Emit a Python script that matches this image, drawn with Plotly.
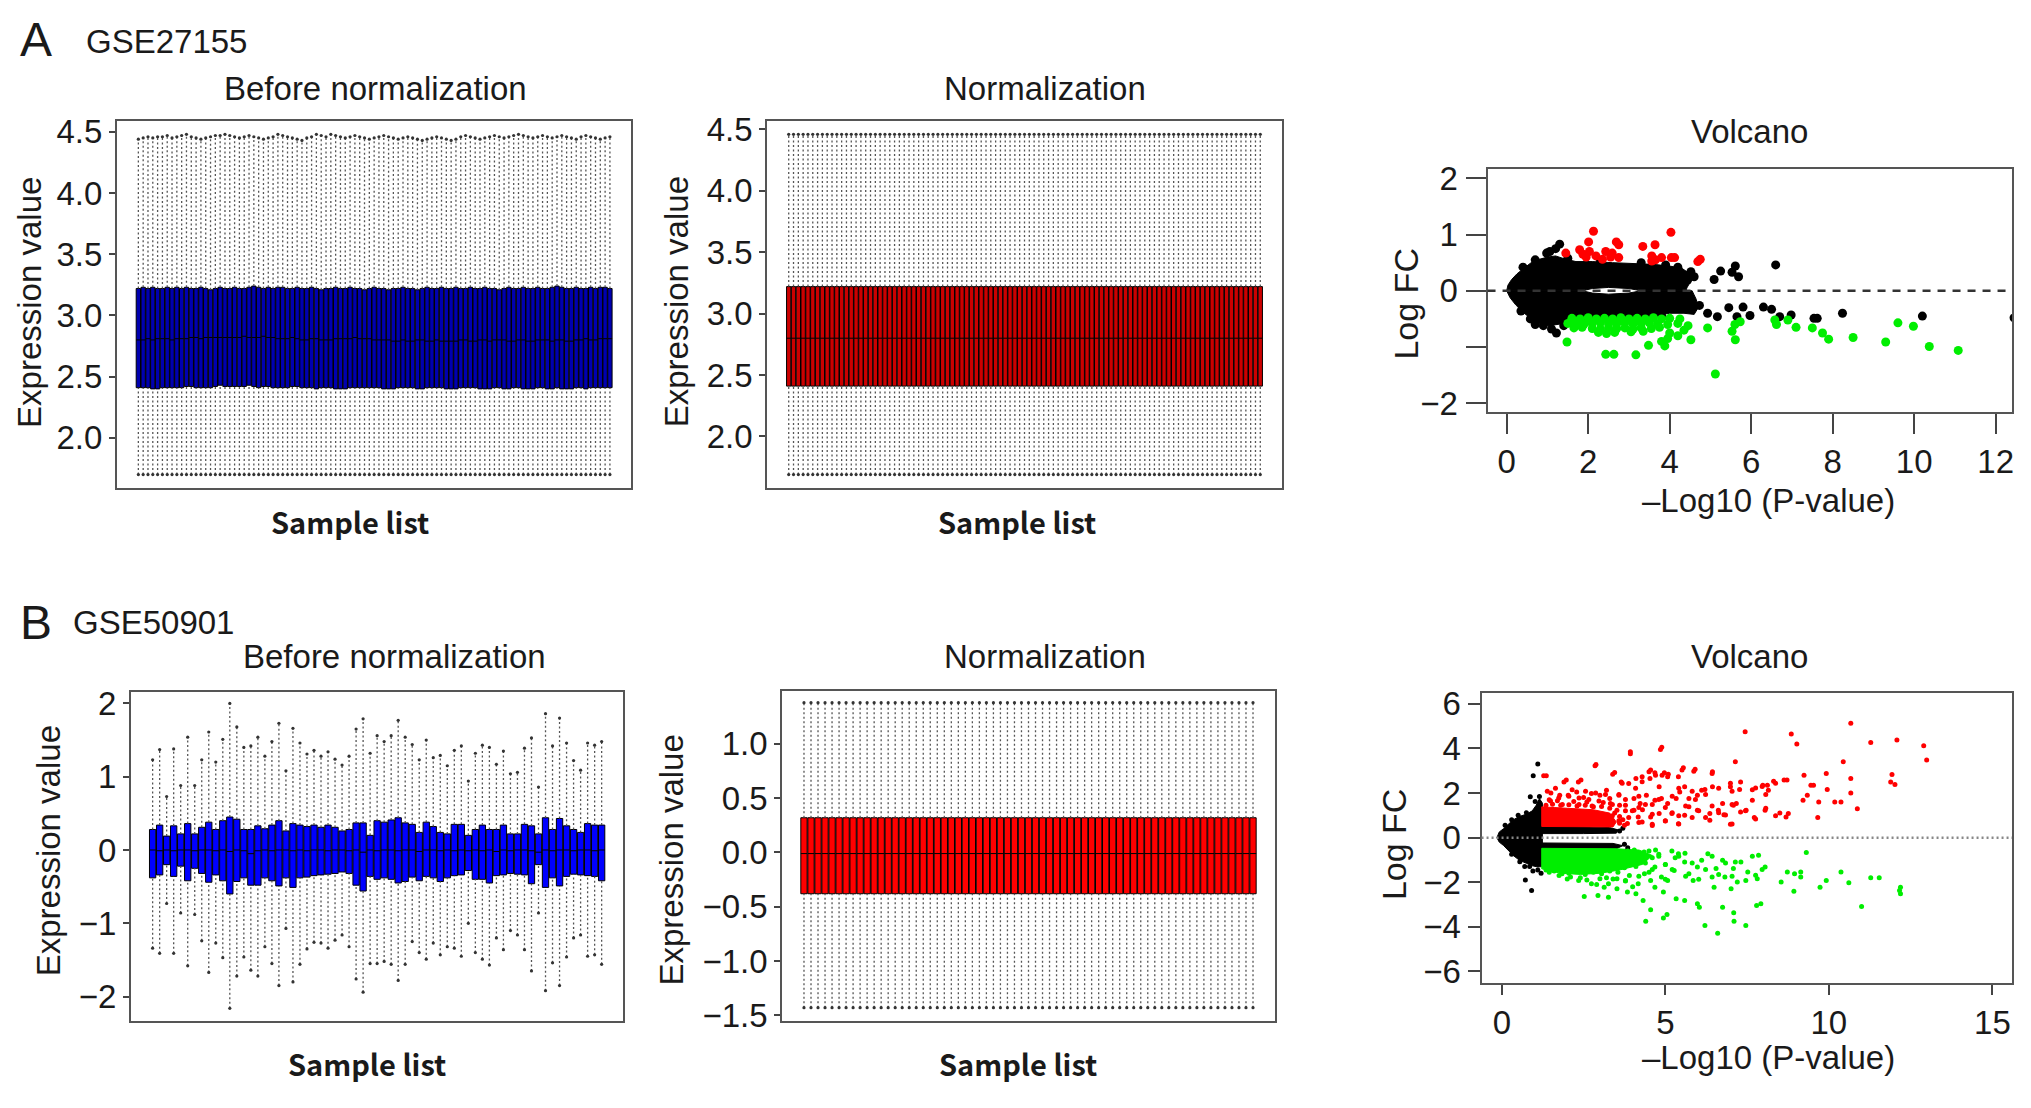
import plotly.graph_objects as go

# ---------------- A: GSE27155 boxplots (99 samples) ----------------
a1_upper = [4.44, 4.45, 4.46, 4.45, 4.46, 4.46, 4.47, 4.45, 4.46, 4.47,
            4.48, 4.46, 4.45, 4.44, 4.45, 4.46, 4.47, 4.47, 4.48, 4.47,
            4.46, 4.45, 4.46, 4.47, 4.46, 4.45, 4.44, 4.45, 4.46, 4.48,
            4.47, 4.46, 4.45, 4.44, 4.43, 4.45, 4.46, 4.48, 4.47, 4.46,
            4.48, 4.47, 4.46, 4.45, 4.46, 4.47, 4.46, 4.45, 4.44, 4.45,
            4.46, 4.47, 4.46, 4.45, 4.44, 4.45, 4.46, 4.45, 4.44, 4.43,
            4.44, 4.45, 4.46, 4.45, 4.44, 4.43, 4.44, 4.46, 4.47, 4.46,
            4.45, 4.44, 4.45, 4.46, 4.47, 4.46, 4.45, 4.46, 4.47, 4.48,
            4.47, 4.46, 4.45, 4.46, 4.47, 4.46, 4.45, 4.46, 4.47, 4.46,
            4.45, 4.44, 4.46, 4.47, 4.46, 4.45, 4.44, 4.45, 4.46]
a1_q3 = [3.22, 3.23, 3.22, 3.23, 3.22, 3.22, 3.23, 3.22, 3.23, 3.22,
         3.23, 3.22, 3.22, 3.23, 3.22, 3.21, 3.22, 3.23, 3.22, 3.22,
         3.23, 3.22, 3.22, 3.23, 3.24, 3.23, 3.22, 3.23, 3.22, 3.23,
         3.23, 3.22, 3.22, 3.23, 3.22, 3.22, 3.23, 3.22, 3.21, 3.22,
         3.22, 3.23, 3.22, 3.22, 3.23, 3.22, 3.22, 3.21, 3.22, 3.23,
         3.22, 3.22, 3.21, 3.22, 3.22, 3.23, 3.22, 3.22, 3.21, 3.22,
         3.23, 3.22, 3.22, 3.23, 3.22, 3.22, 3.23, 3.22, 3.22, 3.23,
         3.22, 3.22, 3.23, 3.22, 3.22, 3.21, 3.22, 3.23, 3.22, 3.22,
         3.23, 3.22, 3.22, 3.23, 3.22, 3.22, 3.23, 3.24, 3.23, 3.22,
         3.22, 3.23, 3.22, 3.22, 3.23, 3.22, 3.23, 3.23, 3.22]
a1_median = [2.80, 2.80, 2.81, 2.80, 2.81, 2.81, 2.81, 2.80, 2.81, 2.81,
             2.81, 2.82, 2.82, 2.81, 2.82, 2.82, 2.82, 2.82, 2.82, 2.82,
             2.82, 2.82, 2.83, 2.82, 2.82, 2.82, 2.83, 2.82, 2.82, 2.81,
             2.81, 2.81, 2.82, 2.81, 2.80, 2.80, 2.81, 2.81, 2.80, 2.80,
             2.80, 2.81, 2.81, 2.81, 2.81, 2.82, 2.81, 2.81, 2.81, 2.80,
             2.80, 2.80, 2.80, 2.79, 2.79, 2.80, 2.79, 2.79, 2.80, 2.80,
             2.79, 2.79, 2.80, 2.79, 2.79, 2.79, 2.79, 2.80, 2.80, 2.79,
             2.79, 2.80, 2.80, 2.79, 2.80, 2.80, 2.80, 2.79, 2.79, 2.80,
             2.80, 2.79, 2.79, 2.80, 2.80, 2.80, 2.79, 2.80, 2.80, 2.79,
             2.79, 2.80, 2.80, 2.81, 2.80, 2.80, 2.81, 2.81, 2.81]
a1_q1 = [2.41, 2.41, 2.41, 2.40, 2.40, 2.41, 2.41, 2.41, 2.41, 2.41,
         2.42, 2.42, 2.41, 2.41, 2.41, 2.41, 2.42, 2.43, 2.42, 2.42,
         2.42, 2.42, 2.42, 2.43, 2.42, 2.41, 2.42, 2.42, 2.41, 2.41,
         2.41, 2.41, 2.42, 2.42, 2.41, 2.41, 2.41, 2.40, 2.41, 2.41,
         2.41, 2.40, 2.40, 2.40, 2.41, 2.41, 2.41, 2.41, 2.41, 2.41,
         2.41, 2.40, 2.40, 2.40, 2.41, 2.41, 2.41, 2.41, 2.40, 2.40,
         2.41, 2.41, 2.41, 2.41, 2.40, 2.40, 2.40, 2.41, 2.41, 2.41,
         2.41, 2.40, 2.40, 2.40, 2.41, 2.41, 2.40, 2.40, 2.41, 2.41,
         2.40, 2.40, 2.40, 2.41, 2.41, 2.40, 2.40, 2.41, 2.40, 2.40,
         2.40, 2.41, 2.41, 2.40, 2.41, 2.41, 2.41, 2.41, 2.41]
a1_lower = 1.70  # same bottom whisker for every sample

# after normalization every sample has the same distribution
a2_stats = dict(lower=1.69, q1=2.41, median=2.80, q3=3.22, upper=4.46)

# ---------------- B: GSE50901 boxplots (65 samples) ----------------
b1_upper = [1.23, 1.37, 0.73, 1.38, 0.88, 1.54, 0.88, 1.23, 1.61, 1.20,
            1.51, 2.00, 1.68, 1.40, 1.42, 1.54, 1.28, 1.48, 1.73, 1.08,
            1.66, 1.46, 1.31, 1.36, 1.28, 1.34, 1.24, 1.16, 1.28, 1.65,
            1.79, 1.32, 1.56, 1.48, 1.56, 1.77, 1.54, 1.44, 1.23, 1.50,
            1.26, 1.29, 1.15, 1.36, 1.42, 0.94, 1.32, 1.43, 1.40, 1.17,
            1.35, 1.04, 1.06, 1.39, 1.53, 0.86, 1.86, 1.42, 1.80, 1.46,
            1.22, 1.09, 1.46, 1.43, 1.48]
b1_q3 = [0.28, 0.34, 0.19, 0.33, 0.22, 0.36, 0.22, 0.31, 0.38, 0.28,
         0.40, 0.45, 0.42, 0.28, 0.28, 0.33, 0.29, 0.34, 0.40, 0.26,
         0.36, 0.34, 0.32, 0.34, 0.31, 0.34, 0.31, 0.26, 0.28, 0.37,
         0.37, 0.20, 0.40, 0.38, 0.41, 0.44, 0.37, 0.35, 0.24, 0.38,
         0.32, 0.24, 0.22, 0.35, 0.35, 0.20, 0.28, 0.34, 0.28, 0.28,
         0.34, 0.22, 0.22, 0.35, 0.33, 0.22, 0.44, 0.28, 0.43, 0.33,
         0.28, 0.24, 0.36, 0.34, 0.34]
b1_median = [0.00, -0.01, 0.00, -0.01, 0.00, 0.00, -0.01, 0.00, 0.00, -0.01,
             0.00, -0.02, 0.00, -0.01, -0.05, -0.01, 0.00, -0.01, 0.00, 0.00,
             -0.01, 0.00, -0.01, 0.00, 0.00, -0.01, 0.00, 0.00, -0.01, 0.00,
             -0.03, 0.00, -0.01, 0.00, 0.00, -0.01, 0.00, 0.00, -0.02, 0.00,
             0.00, -0.01, 0.00, -0.01, 0.00, -0.01, 0.00, -0.01, 0.00, -0.02,
             0.00, -0.01, 0.00, 0.00, -0.01, -0.03, 0.00, -0.01, 0.00, 0.00,
             -0.01, 0.00, 0.00, -0.01, 0.00]
b1_q1 = [-0.38, -0.34, -0.20, -0.36, -0.22, -0.42, -0.25, -0.32, -0.44, -0.34,
         -0.42, -0.60, -0.43, -0.38, -0.48, -0.48, -0.38, -0.42, -0.49, -0.38,
         -0.51, -0.38, -0.37, -0.35, -0.34, -0.33, -0.32, -0.30, -0.32, -0.48,
         -0.56, -0.36, -0.40, -0.38, -0.40, -0.45, -0.43, -0.37, -0.42, -0.36,
         -0.38, -0.43, -0.38, -0.35, -0.34, -0.28, -0.40, -0.40, -0.45, -0.35,
         -0.34, -0.32, -0.33, -0.34, -0.46, -0.20, -0.51, -0.38, -0.49, -0.36,
         -0.33, -0.34, -0.35, -0.36, -0.42]
b1_lower = [-1.34, -1.41, -0.73, -1.41, -0.86, -1.58, -0.88, -1.24, -1.67, -1.27,
            -1.47, -2.16, -1.72, -1.46, -1.64, -1.72, -1.32, -1.55, -1.85, -1.07,
            -1.80, -1.56, -1.35, -1.26, -1.27, -1.34, -1.23, -1.16, -1.32, -1.76,
            -1.94, -1.55, -1.55, -1.52, -1.56, -1.78, -1.56, -1.25, -1.40, -1.49,
            -1.27, -1.43, -1.32, -1.34, -1.45, -1.00, -1.40, -1.49, -1.57, -1.20,
            -1.36, -1.10, -1.16, -1.36, -1.65, -0.86, -1.92, -1.54, -1.85, -1.46,
            -1.20, -1.16, -1.45, -1.43, -1.56]

b2_stats = dict(lower=-1.43, q1=-0.38, median=-0.01, q3=0.32, upper=1.38)

# ---------------- A: volcano (GSE27155) ----------------
# dense cloud of non-significant genes, outline of upper / lower half
a3_core_up_x = [0.00, 0.03, 0.12, 0.25, 0.42, 0.60, 0.80, 1.00, 1.20, 1.45, 1.70, 2.10, 2.60,
                3.10, 3.60, 4.00, 4.30, 4.50, 4.50, 4.42, 4.40, 3.30, 3.00, 2.50, 2.10, 1.85, 0.00]
a3_core_up_y = [0.00, 0.10, 0.20, 0.30, 0.40, 0.50, 0.56, 0.60, 0.62, 0.56, 0.52, 0.52, 0.50,
                0.49, 0.47, 0.44, 0.40, 0.30, 0.15, 0.05, 0.00, 0.00, 0.04, 0.06, 0.04, 0.00, 0.00]
a3_core_lo_x = [0.00, 1.85, 2.10, 2.50, 3.00, 3.30, 4.55, 4.65, 4.70, 4.60, 4.35, 4.00, 3.50,
                3.00, 2.50, 2.00, 1.60, 1.30, 1.05, 0.80, 0.60, 0.40, 0.22, 0.08, 0.00]
a3_core_lo_y = [0.00, 0.00, -0.04, -0.06, -0.04, 0.00, 0.00, -0.15, -0.30, -0.42, -0.40, -0.40, -0.46,
                -0.49, -0.50, -0.52, -0.56, -0.60, -0.62, -0.58, -0.50, -0.38, -0.25, -0.12, 0.00]
a3_black = [(0.98, 0.67), (1.06, 0.70), (1.30, 0.83), (1.20, 0.75), (0.58, -0.50), (0.70, -0.60),
            (1.22, -0.75), (1.10, -0.68), (0.40, 0.42), (0.70, 0.55), (1.50, 0.58), (2.30, 0.54),
            (3.30, 0.50), (3.90, 0.46), (4.20, 0.42), (2.80, -0.52), (3.80, -0.44), (0.35, -0.36),
            (1.40, -0.62), (0.90, -0.62), (4.44, 0.19), (4.52, 0.34), (4.60, 0.25), (5.09, 0.20),
            (5.25, 0.35), (5.53, 0.33), (5.61, 0.44), (5.69, 0.25), (6.60, 0.46), (4.73, -0.26),
            (4.93, -0.40), (5.17, -0.46), (5.45, -0.30), (5.65, -0.46), (5.80, -0.29), (5.97, -0.44),
            (6.30, -0.29), (6.50, -0.33), (6.70, -0.46), (6.98, -0.43), (7.54, -0.49), (7.62, -0.49),
            (8.24, -0.40), (10.20, -0.45), (12.45, -0.48)]
a3_red = [(2.13, 1.06), (4.03, 1.04), (2.01, 0.87), (2.69, 0.87), (1.45, 0.67), (1.79, 0.73),
          (2.03, 0.70), (2.19, 0.62), (2.43, 0.70), (2.59, 0.67), (2.75, 0.59), (2.75, 0.82),
          (3.34, 0.79), (3.64, 0.82), (3.56, 0.62), (3.80, 0.59), (4.04, 0.59), (4.12, 0.59),
          (4.69, 0.52), (4.75, 0.56), (1.87, 0.65), (2.35, 0.56), (3.56, 0.53), (1.95, 0.60),
          (2.55, 0.60), (3.65, 0.55)]
a3_green = [(1.48, -0.91), (2.43, -1.13), (2.63, -1.13), (3.17, -1.14), (3.48, -0.97), (3.80, -0.90),
            (3.88, -0.98), (4.00, -0.75), (4.52, -0.87), (5.12, -1.48), (4.93, -0.66), (5.53, -0.72),
            (5.61, -0.87), (5.73, -0.55), (6.58, -0.52), (6.90, -0.52), (7.10, -0.65), (7.50, -0.66),
            (7.75, -0.75), (7.90, -0.86), (8.50, -0.83), (9.30, -0.91), (9.60, -0.57), (9.98, -0.63),
            (10.37, -0.99), (11.08, -1.06), (4.20, -0.80), (4.35, -0.70), (3.95, -0.85), (5.60, -0.60),
            (6.62, -0.60), (4.45, -0.62),
            (1.60, -0.49), (1.80, -0.50), (2.00, -0.48), (2.20, -0.50), (2.40, -0.49), (2.60, -0.50),
            (2.80, -0.48), (3.00, -0.50), (3.20, -0.49), (3.40, -0.50), (3.60, -0.48), (3.80, -0.50),
            (4.00, -0.49), (4.25, -0.50), (1.50, -0.58), (1.70, -0.57), (1.90, -0.59), (2.10, -0.58),
            (2.30, -0.57), (2.50, -0.59), (2.70, -0.58), (2.90, -0.57), (3.10, -0.59), (3.30, -0.58),
            (3.50, -0.57), (3.70, -0.59), (3.95, -0.60), (4.20, -0.58), (1.65, -0.66), (1.85, -0.65),
            (2.10, -0.67), (2.30, -0.68), (2.50, -0.66), (2.70, -0.67), (2.90, -0.66), (3.10, -0.68),
            (3.30, -0.66), (3.55, -0.67), (3.75, -0.65), (2.25, -0.74), (2.45, -0.76), (2.65, -0.74),
            (3.05, -0.73), (3.35, -0.72)]

# ---------------- B: volcano (GSE50901) ----------------
b3_core_x = [-0.15, -0.08, 0.05, 0.16, 0.35, 0.54, 0.75, 0.93, 1.05, 1.15, 1.24, 1.24,
             1.22, 1.10, 0.93, 0.75, 0.54, 0.35, 0.16, 0.05, -0.08, -0.15]
b3_core_y = [0.00, 0.25, 0.40, 0.55, 0.80, 0.95, 1.05, 1.20, 1.45, 1.75, 1.55, -1.10,
             -1.30, -1.32, -1.26, -1.15, -1.02, -0.80, -0.50, -0.35, -0.20, 0.00]
b3_arm_up_x = [1.22, 1.22, 2.00, 2.80, 3.30, 3.55, 3.50, 2.50, 1.22]
b3_arm_up_y = [0.18, 0.50, 0.50, 0.48, 0.45, 0.35, 0.20, 0.18, 0.18]
b3_arm_lo_x = [1.22, 2.50, 3.40, 3.70, 3.50, 2.50, 1.22]
b3_arm_lo_y = [-0.24, -0.25, -0.26, -0.36, -0.50, -0.50, -0.52]
b3_red_dense_x = [1.22, 1.22, 1.60, 2.20, 2.80, 3.30, 3.50, 3.40, 2.50, 1.22]
b3_red_dense_y = [0.50, 1.38, 1.35, 1.30, 1.25, 1.10, 0.70, 0.48, 0.48, 0.50]
b3_green_dense_x = [1.22, 2.50, 3.50, 4.20, 4.60, 4.30, 3.60, 3.00, 2.40, 1.80, 1.22, 1.22]
b3_green_dense_y = [-0.48, -0.48, -0.50, -0.56, -0.80, -1.20, -1.45, -1.60, -1.65, -1.60, -1.40, -0.48]
b3_black = [(0.96, 2.77), (1.10, 3.30), (0.87, 1.83), (1.02, 1.62), (1.15, 1.85), (0.72, -1.90),
            (0.91, -2.37), (0.95, -1.50), (1.10, -1.45), (0.70, -1.30), (1.20, -1.60), (3.60, 0.30),
            (3.70, 0.42), (3.75, -0.30), (3.85, -0.45), (0.10, 0.55), (0.30, 0.80), (0.50, 1.00),
            (0.75, 1.12), (0.30, -0.75), (0.55, -1.08), (0.85, -1.30)]
b3_red = [(10.67, 5.13), (7.44, 4.75), (8.85, 4.65), (9.02, 4.20), (11.28, 4.27), (12.08, 4.38),
          (12.90, 4.12), (12.99, 3.48), (3.93, 3.85), (4.89, 4.05), (2.88, 3.28), (7.14, 3.40),
          (10.44, 3.40), (10.67, 2.65), (10.67, 2.00), (10.87, 1.30), (11.93, 2.83), (11.89, 2.50),
          (12.02, 2.38), (9.92, 2.88), (9.95, 2.16), (9.69, 1.60), (10.18, 1.60), (10.37, 1.60),
          (9.66, 0.90), (9.24, 2.80), (9.21, 1.68), (9.45, 2.35), (9.53, 2.35), (9.34, 1.90),
          (8.72, 2.58), (8.63, 2.58), (8.69, 0.93), (8.76, 1.08), (8.50, 1.11), (8.31, 2.53),
          (8.12, 2.35), (8.15, 2.13), (7.98, 2.35), (7.76, 2.23), (7.66, 1.68), (7.72, 0.90),
          (7.27, 2.16), (6.99, 2.28), (7.08, 1.45), (7.17, 1.53), (7.30, 1.15), (6.99, 0.60),
          (6.79, 1.03), (6.44, 2.95), (6.44, 2.28), (6.21, 2.16), (6.11, 2.13), (5.98, 1.90),
          (6.36, 1.08), (6.36, 0.78), (5.91, 3.07), (5.55, 3.13), (5.59, 2.28), (5.44, 2.05),
          (5.40, 2.73), (5.72, 1.75), (5.72, 1.38), (5.33, 1.75), (5.07, 2.73), (4.97, 2.91),
          (4.68, 2.91), (4.55, 3.03), (4.53, 2.65), (4.81, 2.28), (4.88, 1.75), (4.29, 2.73),
          (4.10, 2.65), (3.88, 2.43), (3.65, 2.50), (3.45, 2.92), (3.58, 1.90), (3.00, 1.90),
          (2.74, 1.98), (2.42, 2.58), (2.29, 2.05), (1.97, 2.58), (2.03, 1.90), (1.77, 1.90),
          (1.36, 2.77), (4.04, 1.75), (4.23, 1.53), (4.42, 1.90), (4.68, 1.68), (5.07, 1.53),
          (5.20, 1.08), (5.59, 1.00), (5.98, 1.23), (4.81, 1.08), (4.55, 0.93), (4.17, 0.93),
          (4.29, 0.70), (3.84, 0.63), (4.04, 1.23), (3.52, 1.23), (3.32, 1.53), (3.20, 2.13),
          (3.78, 1.45), (6.75, 1.53), (6.62, 1.23), (7.47, 1.23), (8.05, 1.23), (1.45, 1.70),
          (1.70, 1.65), (2.20, 1.62), (2.60, 1.60), (3.10, 1.58), (3.60, 1.45), (4.30, 1.25),
          (4.60, 0.60), (5.00, 0.75), (5.40, 0.62), (1.50, 2.00), (2.50, 1.80), (3.30, 1.75),
          (1.35, 1.45), (1.55, 1.50), (1.80, 1.45), (2.05, 1.48), (2.30, 1.42), (2.55, 1.45),
          (2.80, 1.38), (3.05, 1.40), (3.30, 1.32), (3.45, 1.10), (3.60, 0.95), (3.70, 0.80),
          (3.60, 0.65), (3.75, 0.55), (1.28, 2.78), (1.90, 2.50), (2.34, 2.50), (2.85, 3.22),
          (3.39, 2.84), (3.93, 3.76), (4.85, 3.95), (4.50, 2.95), (4.70, 2.80), (4.90, 2.80),
          (5.09, 2.84), (5.51, 3.03), (5.87, 2.98), (6.43, 2.88), (6.99, 2.44), (7.30, 2.49),
          (7.96, 2.29), (8.37, 2.44), (2.56, 2.08), (2.87, 2.00), (3.68, 2.44), (4.09, 2.22),
          (4.29, 2.51), (5.41, 2.22), (5.82, 2.08), (6.23, 1.93), (6.63, 2.22), (7.04, 2.08),
          (7.66, 2.15), (8.07, 1.93), (8.07, 1.32), (8.37, 0.98), (7.76, 0.83), (7.45, 1.20),
          (7.04, 1.49), (6.84, 1.02), (7.04, 0.61), (6.43, 1.42), (5.92, 1.71), (5.62, 1.42),
          (5.82, 0.90), (5.21, 1.86), (5.00, 1.35), (4.80, 1.71), (4.60, 1.05), (4.39, 1.49),
          (4.19, 1.86), (3.99, 1.20), (3.78, 1.71), (3.58, 1.93), (3.38, 1.49), (3.17, 1.93),
          (2.97, 1.64), (2.66, 1.71), (2.36, 1.78), (2.05, 1.86), (1.74, 1.78), (1.49, 1.64),
          (1.39, 2.08), (1.64, 2.22), (2.15, 2.15), (3.58, 0.76), (3.88, 0.90), (4.19, 0.68),
          (4.60, 0.54), (5.00, 0.76), (5.41, 0.98), (6.23, 0.90), (6.63, 1.12), (5.41, 0.61),
          (3.78, 1.20), (4.60, 1.49), (5.21, 1.12), (6.02, 1.20), (4.19, 1.35), (3.38, 0.98),
          (2.36, 1.49), (2.76, 1.42), (1.85, 1.49)]
b3_green = [(6.60, -4.29), (6.21, -3.94), (4.40, -3.75), (4.94, -3.60), (5.05, -3.45), (7.46, -3.94),
            (7.10, -3.75), (7.09, -3.37), (11.00, -3.09), (7.79, -3.04), (7.92, -2.97), (6.75, -3.12),
            (5.98, -2.97), (6.04, -3.12), (5.59, -2.82), (5.33, -2.74), (4.55, -3.24), (4.94, -2.44),
            (4.68, -2.22), (4.32, -2.82), (4.10, -2.52), (3.84, -2.44), (3.52, -2.29), (3.26, -2.67),
            (2.94, -2.59), (2.52, -2.64), (3.13, -2.22), (12.19, -2.22), (12.19, -2.52), (12.16, -2.37),
            (11.28, -1.80), (11.54, -1.80), (10.37, -1.54), (10.61, -2.02), (9.73, -2.22), (9.92, -1.92),
            (9.31, -0.67), (9.14, -1.54), (9.14, -1.77), (8.95, -1.62), (8.73, -1.54), (8.54, -1.99),
            (8.93, -2.40), (7.85, -0.79), (7.81, -1.84), (7.76, -1.69), (8.05, -1.32), (7.46, -1.92),
            (7.52, -1.54), (7.31, -1.09), (7.14, -1.09), (7.08, -1.39), (7.20, -1.99), (7.01, -2.29),
            (6.82, -1.77), (6.75, -1.02), (6.55, -1.39), (6.43, -1.77), (6.49, -2.22), (6.30, -0.72),
            (6.11, -1.02), (5.98, -1.32), (5.85, -1.92), (5.72, -1.62), (5.59, -1.09), (5.40, -0.72),
            (5.27, -1.47), (5.07, -1.92), (4.88, -1.77), (4.68, -1.32), (4.55, -1.92), (4.36, -1.62),
            (4.17, -2.07), (3.78, -1.92), (3.52, -1.84), (3.26, -2.07), (3.00, -1.84), (2.74, -2.07),
            (2.35, -1.92), (2.10, -1.77), (1.84, -1.62), (1.58, -1.47), (1.45, -1.55), (2.00, -1.85),
            (2.60, -1.90), (3.20, -1.80), (3.90, -1.70), (4.50, -1.55), (5.00, -1.20), (5.30, -0.90),
            (5.60, -0.70), (5.20, -0.60), (4.70, -0.55), (1.35, -1.45), (2.90, -2.10), (4.00, -2.20),
            (1.40, -1.40), (1.60, -1.50), (1.85, -1.45), (2.05, -1.60), (2.30, -1.50), (2.55, -1.65),
            (2.80, -1.55), (3.05, -1.62), (3.30, -1.50), (3.55, -1.55), (3.75, -1.35), (3.90, -1.15),
            (4.05, -0.95), (4.20, -0.80), (4.35, -0.65), (4.50, -0.60), (4.10, -1.30), (4.30, -1.05),
            (4.60, -0.90), (4.80, -0.75), (3.85, -0.60), (4.05, -0.55), (1.75, -1.70), (2.40, -1.80),
            (3.40, -1.85), (5.41, -0.84), (5.82, -1.14), (6.43, -0.84), (5.21, -1.43), (5.62, -1.73),
            (6.23, -1.43), (6.84, -1.14), (7.04, -1.73), (7.66, -0.84), (7.96, -1.43), (4.80, -0.84),
            (4.60, -1.43), (5.00, -1.87), (4.19, -1.73), (3.78, -1.95), (4.39, -1.14), (3.99, -0.84),
            (5.00, -1.21), (6.02, -1.87), (6.63, -1.65)]

W, H = 2031, 1108
OFF = 8  # the page body adds an 8 px margin around the figure
FONT = "Liberation Sans"
TXT = "#1a1a1a"

# panel frames in page pixels: (left, right, top, bottom)
frames = {
    1: (117, 632, 113, 488),   # A before normalization
    2: (768, 1283, 113, 488),  # A normalization
    3: (1489, 2014, 162, 410), # A volcano
    4: (131, 624, 696, 1032),  # B before normalization
    5: (783, 1276, 695, 1032), # B normalization
    6: (1483, 2014, 697, 993), # B volcano
}


def fx(px):
    return (px - OFF) / W


def fy(py):
    return 1 - (py - OFF) / H


fig = go.Figure()


def ax(i):
    return ("x" if i == 1 else f"x{i}"), ("y" if i == 1 else f"y{i}")


def add_boxes(i, q1, med, q3, lower, upper, fill):
    xa, ya = ax(i)
    xs = list(range(1, len(q1) + 1))
    wx, wy = [], []
    for s, lo, a, b, hi in zip(xs, lower, q1, q3, upper):
        wx += [s, s, None, s, s, None]
        wy += [lo, a, None, b, hi, None]
    fig.add_trace(go.Scatter(x=wx, y=wy, mode="lines", xaxis=xa, yaxis=ya,
                             line=dict(color="#555555", width=1.3, dash="2px,2.5px"),
                             hoverinfo="skip"))
    fig.add_trace(go.Scatter(x=xs + xs, y=list(lower) + list(upper), mode="markers",
                             xaxis=xa, yaxis=ya, hoverinfo="skip",
                             marker=dict(symbol="circle", size=3.2, color="#333333",
                                         line=dict(width=0))))
    fig.add_trace(go.Box(x=xs, q1=q1, median=med, q3=q3, lowerfence=q1, upperfence=q3,
                         xaxis=xa, yaxis=ya, fillcolor=fill, width=0.9, whiskerwidth=0,
                         line=dict(color="black", width=1), boxpoints=False))


n_a = len(a1_q1)
n_b = len(b1_q1)
add_boxes(1, a1_q1, a1_median, a1_q3, [a1_lower] * n_a, a1_upper, "#0000b0")
add_boxes(2, [a2_stats["q1"]] * n_a, [a2_stats["median"]] * n_a, [a2_stats["q3"]] * n_a,
          [a2_stats["lower"]] * n_a, [a2_stats["upper"]] * n_a, "#cc0000")
add_boxes(4, b1_q1, b1_median, b1_q3, b1_lower, b1_upper, "#0000ff")
add_boxes(5, [b2_stats["q1"]] * n_b, [b2_stats["median"]] * n_b, [b2_stats["q3"]] * n_b,
          [b2_stats["lower"]] * n_b, [b2_stats["upper"]] * n_b, "#ff0000")


def add_region(i, xs, ys, color):
    xa, ya = ax(i)
    fig.add_trace(go.Scatter(x=xs, y=ys, mode="lines", fill="toself", fillcolor=color,
                             line=dict(color=color, width=1), xaxis=xa, yaxis=ya,
                             hoverinfo="skip"))


def add_points(i, pts, color, size):
    xa, ya = ax(i)
    fig.add_trace(go.Scatter(x=[p[0] for p in pts], y=[p[1] for p in pts], mode="markers",
                             marker=dict(color=color, size=size, line=dict(width=0)),
                             xaxis=xa, yaxis=ya, hoverinfo="skip"))


# volcano A
add_region(3, a3_core_up_x, a3_core_up_y, "black")
add_region(3, a3_core_lo_x, a3_core_lo_y, "black")
add_points(3, a3_black, "black", 9)
add_points(3, a3_red, "#ff0000", 9)
add_points(3, a3_green, "#00ee00", 9)

# volcano B
add_region(6, b3_core_x, b3_core_y, "black")
add_region(6, b3_arm_up_x, b3_arm_up_y, "black")
add_region(6, b3_arm_lo_x, b3_arm_lo_y, "black")
add_region(6, b3_red_dense_x, b3_red_dense_y, "#ff0000")
add_region(6, b3_green_dense_x, b3_green_dense_y, "#00ee00")
add_points(6, b3_black, "black", 5)
add_points(6, b3_red, "#ff0000", 5)
add_points(6, b3_green, "#00ee00", 5)

# zero reference lines on the volcano plots
fig.add_shape(type="line", xref="x3 domain", yref="y3", x0=0, x1=1, y0=0, y1=0,
              line=dict(color="#333333", width=2.5, dash="8px,7px"), layer="above")
fig.add_shape(type="line", xref="x6 domain", yref="y6", x0=0, x1=1, y0=0, y1=0,
              line=dict(color="#888888", width=2.5, dash="2px,3px"), layer="above")

tickfont = dict(family=FONT, size=33, color=TXT)
layout = dict(width=W, height=H, autosize=False, showlegend=False,
              margin=dict(l=0, r=0, t=0, b=0), plot_bgcolor="white", paper_bgcolor="white")

ranges = {
    1: ([0.5 - 0.04 * n_a, n_a + 0.5 + 0.04 * n_a], [1.59, 4.59]),
    2: ([0.5 - 0.04 * n_a, n_a + 0.5 + 0.04 * n_a], [1.58, 4.57]),
    3: ([-0.47, 12.4], [-2.15, 2.17]),
    4: ([0.5 - 0.04 * n_b, n_b + 0.5 + 0.04 * n_b], [-2.33, 2.16]),
    5: ([0.5 - 0.04 * n_b, n_b + 0.5 + 0.04 * n_b], [-1.55, 1.49]),
    6: ([-0.62, 15.6], [-6.5, 6.5]),
}
yticks = {
    1: ([2.0, 2.5, 3.0, 3.5, 4.0, 4.5], ["2.0", "2.5", "3.0", "3.5", "4.0", "4.5"]),
    2: ([2.0, 2.5, 3.0, 3.5, 4.0, 4.5], ["2.0", "2.5", "3.0", "3.5", "4.0", "4.5"]),
    3: ([-2, -1, 0, 1, 2], ["\u22122", "", "0", "1", "2"]),
    4: ([-2, -1, 0, 1, 2], ["\u22122", "\u22121", "0", "1", "2"]),
    5: ([-1.5, -1.0, -0.5, 0.0, 0.5, 1.0], ["\u22121.5", "\u22121.0", "\u22120.5", "0.0", "0.5", "1.0"]),
    6: ([-6, -4, -2, 0, 2, 4, 6], ["\u22126", "\u22124", "\u22122", "0", "2", "4", "6"]),
}
xticks = {3: [0, 2, 4, 6, 8, 10, 12], 6: [0, 5, 10, 15]}
# (tick length, label standoff) for the y and x axes
ytick_geo = {1: (6, 0), 2: (6, 0), 3: (20, 1), 4: (6, 0), 5: (6, 0), 6: (12, 0)}
xtick_geo = {3: (20, 0), 6: (10, 0)}

for i, (l, r, t, b) in frames.items():
    xname = "xaxis" if i == 1 else f"xaxis{i}"
    yname = "yaxis" if i == 1 else f"yaxis{i}"
    xa, ya = ax(i)
    xr, yr = ranges[i]
    frame = dict(showline=True, mirror=True, linecolor="#555555", linewidth=2,
                 showgrid=False, zeroline=False, fixedrange=True)
    xcfg = dict(domain=[fx(l), fx(r)], anchor=ya, range=xr, **frame)
    if i in xticks:
        xcfg.update(tickvals=xticks[i], ticks="outside", ticklen=xtick_geo[i][0], tickwidth=2,
                    tickcolor="#444444", tickfont=tickfont, ticklabelstandoff=xtick_geo[i][1])
    else:
        xcfg.update(showticklabels=False, ticks="")
    ycfg = dict(domain=[fy(b), fy(t)], anchor=xa, range=yr, **frame)
    ycfg.update(tickvals=yticks[i][0], ticktext=yticks[i][1], ticks="outside",
                ticklen=ytick_geo[i][0], tickwidth=2, tickcolor="#444444", tickfont=tickfont,
                ticklabelstandoff=ytick_geo[i][1])
    layout[xname] = xcfg
    layout[yname] = ycfg

fig.update_layout(**layout)


def label(text, x, y, size=33, angle=0, family=FONT, weight="normal", xanchor="center"):
    fig.add_annotation(text=text, x=fx(x), y=fy(y), xref="paper", yref="paper",
                       showarrow=False, textangle=angle, xanchor=xanchor, yanchor="middle",
                       font=dict(family=family, size=size, color=TXT, weight=weight))


# panel letters and dataset names
label("A", 36, 30, size=48)
label("GSE27155", 84, 32, size=33, xanchor="left")
label("B", 36, 625, size=48)
label("GSE50901", 71, 625, size=33, xanchor="left")

# panel titles
label("Before normalization", 376, 80)
label("Normalization", 1046, 80)
label("Volcano", 1751, 124)
label("Before normalization", 395, 660)
label("Normalization", 1046, 660)
label("Volcano", 1751, 660)

# axis titles
label("Expression value", 30, 298, angle=-90, size=33)
label("Expression value", 678, 298, angle=-90, size=33)
label("Expression value", 48, 858, angle=-90, size=33)
label("Expression value", 672, 868, angle=-90, size=33)
label("Log FC", 1407, 300, angle=-90, size=34)
label("Log FC", 1396, 852, angle=-90, size=34)
label("\u2013Log10 (P-value)", 1770, 501)
label("\u2013Log10 (P-value)", 1770, 1070)
for sx, sy in [(350, 522), (1018, 522), (367, 1075), (1019, 1075)]:
    label("Sample list", sx, sy, size=29, family="Noto Sans CJK SC", weight="bold")

fig.write_html("out.html")
